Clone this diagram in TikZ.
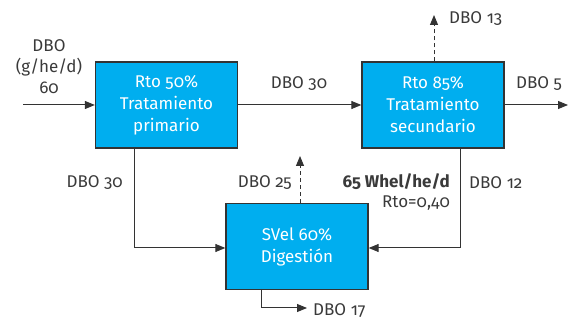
\documentclass[tikz,border=0pt]{standalone}
\usepackage{fontspec}
\setmainfont{Fira Sans}[Numbers=OldStyle]
\usetikzlibrary{arrows.meta}
\definecolor{boxblue}{HTML}{00AEEF}
\definecolor{edge}{HTML}{333333}
\definecolor{txt}{HTML}{3A3A3A}
\begin{document}
\begin{tikzpicture}[x=1pt,y=-1pt,
  proc/.style={draw=edge,line width=1.3pt,fill=boxblue,text=white,minimum width=142pt,minimum height=86pt,inner sep=0pt,align=center,font=\fontsize{17}{22}\selectfont},
  lbl/.style={text=txt,font=\fontsize{17}{21}\selectfont,inner sep=0pt},
  flow/.style={draw=edge,line width=1pt,-{Triangle[length=10pt,width=8pt]}},
  vent/.style={flow,dashed,dash pattern=on 4pt off 3pt}]
\useasboundingbox (0,0) rectangle (568,320);
\node[proc] (p) at (166.5,105) {Rto 50\%\\Tratamiento\\primario};
\node[proc] (s) at (433,105) {Rto 85\%\\Tratamiento\\secundario};
\node[proc] (d) at (297,246.5) {SVel 60\%\\Digestión};
\coordinate (in) at (23,105);
\coordinate (out) at (568,105);
\coordinate (s13) at (434,15);
\coordinate (d25) at (300,156);
\coordinate (d17) at (307,308);
\draw[flow] (in) -- (p.west);
\draw[flow] (p.east) -- (s.west);
\draw[flow] (s.east) -- (out);
\draw[vent] (s13 |- s.north) -- (s13);
\draw[vent] (d25 |- d.north) -- (d25);
\draw[flow] (134,148) |- (d.west |- 0,248);
\draw[flow] (460,148) |- (d.east |- 0,248);
\draw[flow] (261,289) |- (d17);
\node[lbl,align=center] (lin) at (49,67) {DBO\\(g/he/d)\\60};
\node[lbl] (l30a) at (299,84) {DBO 30};
\node[lbl] (l5) at (539,84) {DBO 5};
\node[lbl,anchor=west] (l13) at (449,19) {DBO 13};
\node[lbl,anchor=east] (l30b) at (123,183) {DBO 30};
\node[lbl,anchor=east] (l25) at (292,183) {DBO 25};
\node[lbl,anchor=east,font=\fontsize{17}{21}\selectfont\bfseries] (lw) at (450,182) {65 Whel/he/d};
\node[lbl,anchor=east] (lr) at (450,203) {Rto=0,40};
\node[lbl,anchor=west] (l12) at (469,183) {DBO 12};
\node[lbl,anchor=west] (l17) at (313,311) {DBO 17};
\end{tikzpicture}
\end{document}
